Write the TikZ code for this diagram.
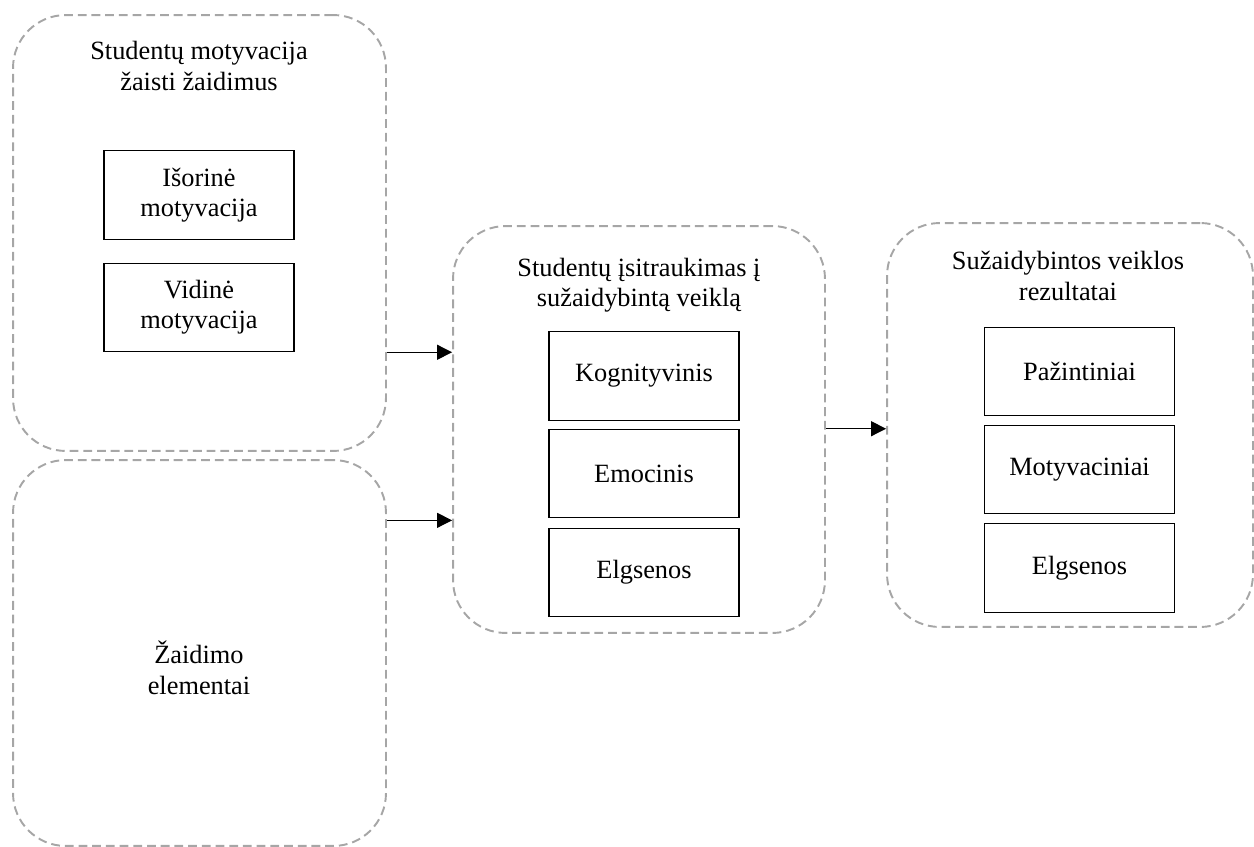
\documentclass[tikz,border=0pt]{standalone}
\usepackage{fontspec}
\setmainfont{Liberation Serif}
\usetikzlibrary{arrows.meta,calc}
\tikzset{
	outerbox/.style={draw=black!35, line width=1.1pt, dash pattern=on 5pt off 2.8pt, rounded corners=30pt, inner sep=0pt},
	innerbox/.style={draw=black, line width=0.6pt, minimum width=3.8cm, minimum height=1.77cm, align=center, inner sep=0pt},
	boxtitle/.style={align=center, inner sep=0pt},
	conn/.style={line width=0.6pt, -{Triangle[length=8.5pt,width=8.5pt]}}
}

\begin{document}
\begin{tikzpicture}[x=0.02cm, y=-0.02cm, font=\fontsize{15}{17.3}\selectfont]
			%%%%% START %%%%%
			\useasboundingbox (0,0) rectangle (1254,847);
			
			% dashed groups
			\node[outerbox, minimum width=7.46cm, minimum height=8.72cm] (mot) at (199.5,233) {};
			\node[outerbox, minimum width=7.46cm, minimum height=7.72cm] (gel) at (199.5,653) {};
			\node[outerbox, minimum width=7.44cm, minimum height=8.14cm] (sit) at (639,429.5) {};
			\node[outerbox, minimum width=7.32cm, minimum height=8.08cm] (rez) at (1070,425) {};
			
			% titles
			\node[boxtitle] (motT) at (199,66) {Studentų motyvacija\\žaisti žaidimus};
			\node[boxtitle] (gelT) at (199,668) {Žaidimo\\elementai};
			\node[boxtitle] (sitT) at (639,285) {Studentų įsitraukimas į\\sužaidybintą veiklą};
			\node[boxtitle] (rezT) at (1068,276) {Sužaidybintos veiklos\\rezultatai};
			
			% inner boxes
			\node[innerbox] (iso) at (199,195) {Išorinė\\motyvacija};
			\node[innerbox] (vid) at (199,307.5) {Vidinė\\motyvacija};
			
			\node[innerbox] (kog) at (644,376) {Kognityvinis};
			\node[innerbox] (emo) at (644,473.5) {Emocinis};
			\node[innerbox] (elg) at (644,572.5) {Elgsenos};
			
			\node[innerbox] (paz) at (1079.5,371.5) {Pažintiniai};
			\node[innerbox] (mtv) at (1079.5,469.5) {Motyvaciniai};
			\node[innerbox] (elg2) at (1079.5,568) {Elgsenos};
			
			% arrows
			\coordinate (gelOut) at ($(gel.north east)!0.158!(gel.south east)$);
			\draw[conn] (vid.south -| mot.east) -- (vid.south -| sit.west);
			\draw[conn] (gelOut) -- (gelOut -| sit.west);
			\draw[conn] (emo.north -| sit.east) -- (emo.north -| rez.west);
			
			%%%%% END %%%%%
\end{tikzpicture}
\end{document}
